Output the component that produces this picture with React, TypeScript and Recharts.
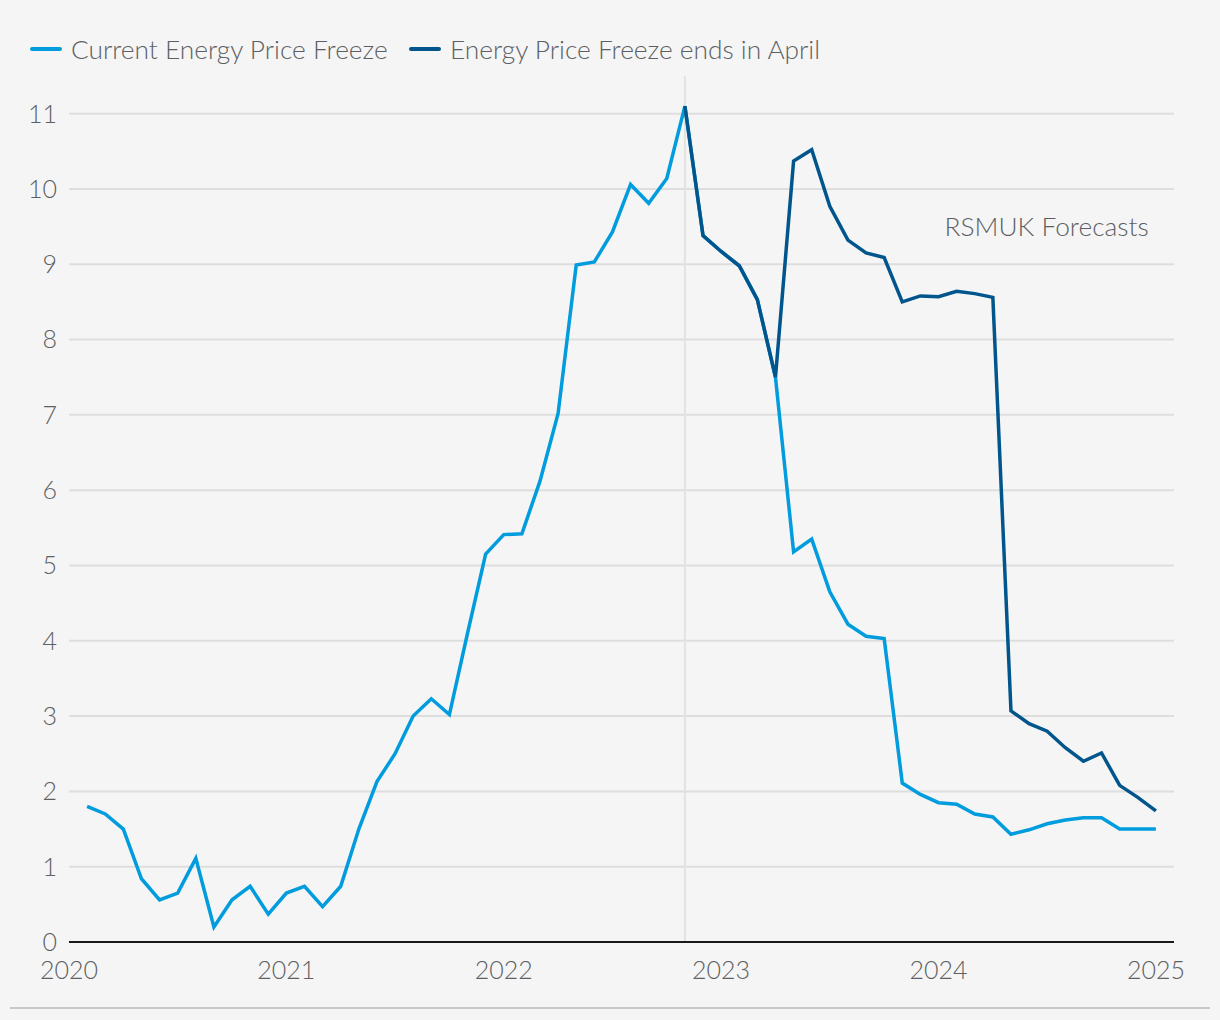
import { CartesianGrid, Line, LineChart, ReferenceDot, ReferenceLine, XAxis, YAxis } from "recharts"

// month index: 1 = Jan 2020 ... 60 = Dec 2024 (plotted at month end)
const months = Array.from({ length: 60 }, (_, i) => i + 1)

const currentFreeze = [
  1.8, 1.7, 1.5, 0.84, 0.56, 0.65, 1.11, 0.2, 0.56, 0.74, 0.37, 0.65,
  0.74, 0.47, 0.74, 1.5, 2.13, 2.5, 3.0, 3.23, 3.02, 4.1, 5.15, 5.41,
  5.42, 6.12, 7.02, 8.99, 9.03, 9.43, 10.06, 9.81, 10.14, 11.1, 9.38, 9.17,
  8.98, 8.53, 7.5, 5.18, 5.35, 4.65, 4.22, 4.06, 4.03, 2.11, 1.96, 1.85,
  1.83, 1.7, 1.66, 1.43, 1.49, 1.57, 1.62, 1.65, 1.65, 1.5, 1.5, 1.5,
]

// forecast starts at Oct 2022 (index 34)
const freezeEndsStart = 34
const freezeEnds = [
  11.1, 9.38, 9.17, 8.98, 8.53, 7.5, 10.37, 10.52, 9.77, 9.32, 9.15, 9.09,
  8.5, 8.58, 8.57, 8.64, 8.61, 8.56, 3.07, 2.9, 2.8, 2.58, 2.4, 2.51,
  2.08, 1.92, 1.74,
]

const xTicks = [0, 12, 24, 36, 48, 60]
const xLabels = ["2020", "2021", "2022", "2023", "2024", "2025"]
const yTicks = [0, 1, 2, 3, 4, 5, 6, 7, 8, 9, 10, 11]

const LIGHT = "#009cde"
const DARK = "#00558c"
const TEXT = "#5c5f63"
const FONT = "Lato, 'Open Sans', sans-serif"

const data = months.map((m, i) => ({
  t: m,
  current: currentFreeze[i],
  ends: m >= freezeEndsStart ? freezeEnds[m - freezeEndsStart] : null,
}))

function LegendItem({ color, label, left }: { color: string; label: string; left: number }) {
  return (
    <div style={{ position: "absolute", left, top: 34, display: "flex", alignItems: "center", height: 30 }}>
      <span style={{ display: "inline-block", width: 32, height: 3.5, background: color, borderRadius: 2, marginRight: 9 }} />
      <span style={{ fontSize: 26.3, fontWeight: 300, color: TEXT, fontFamily: FONT, whiteSpace: "nowrap" }}>{label}</span>
    </div>
  )
}

export default function App() {
  return (
    <div style={{ position: "absolute", left: 0, top: 0, width: 1220, height: 1020, background: "#f5f5f5", fontFamily: FONT }}>
      <LegendItem color={LIGHT} label="Current Energy Price Freeze" left={30} />
      <LegendItem color={DARK} label="Energy Price Freeze ends in April" left={409} />
      <LineChart width={1220} height={1020} data={data} margin={{ top: 76, right: 46, left: 0, bottom: 38 }}>
        <CartesianGrid vertical={false} horizontalValues={yTicks.slice(1)} stroke="#dedede" strokeWidth={2} />
        <XAxis
          dataKey="t"
          type="number"
          domain={[0, 61]}
          ticks={xTicks}
          tickFormatter={(v: number) => xLabels[xTicks.indexOf(v)]}
          height={40}
          tickLine={false}
          tickSize={0}
          tickMargin={19}
          axisLine={{ stroke: "#1a1a1a", strokeWidth: 2 }}
          tick={{ fontSize: 25, fontWeight: 300, fill: TEXT, fontFamily: FONT }}
        />
        <YAxis
          type="number"
          domain={[0, 11.5]}
          ticks={yTicks}
          width={69}
          axisLine={false}
          tickLine={false}
          tickSize={0}
          tickMargin={12}
          tick={{ fontSize: 25, fontWeight: 300, fill: TEXT, fontFamily: FONT }}
        />
        <ReferenceLine x={freezeEndsStart} stroke="#e2e2e2" strokeWidth={2} />
        <Line dataKey="current" stroke={LIGHT} strokeWidth={3.5} dot={false} isAnimationActive={false} />
        <Line dataKey="ends" stroke={DARK} strokeWidth={3.5} dot={false} isAnimationActive={false} connectNulls={false} />
        <ReferenceDot
          x={59.6}
          y={9.5}
          r={0}
          stroke="none"
          fill="none"
          label={{ value: "RSMUK Forecasts", position: "left", offset: 0, fill: TEXT, fontSize: 26.3, fontWeight: 300, fontFamily: FONT }}
        />
      </LineChart>
      <div style={{ position: "absolute", left: 10, top: 1007, width: 1200, height: 2, background: "#c8c8c8" }} />
    </div>
  )
}
